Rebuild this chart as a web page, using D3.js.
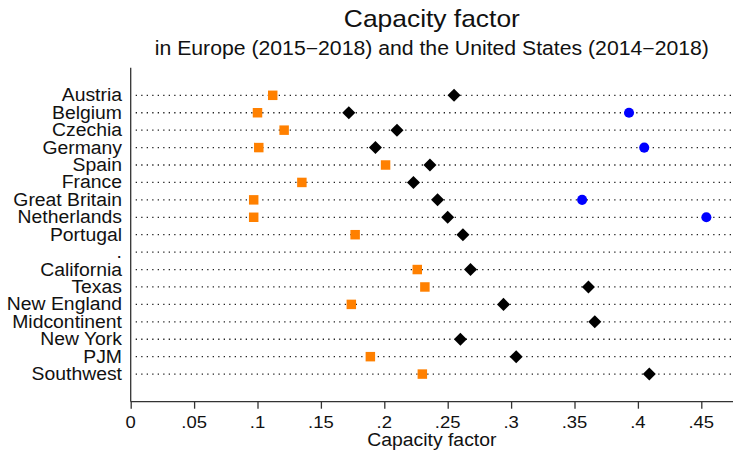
<!DOCTYPE html>
<html>
<head>
<meta charset="utf-8">
<script src="https://cdn.jsdelivr.net/npm/d3@7"></script>
<style>
  html, body { margin: 0; padding: 0; background: #fff; }
  text { font-family: "Liberation Sans", Arial, Helvetica, sans-serif; fill: #111; }
</style>
</head>
<body>
<svg id="chart" width="733" height="453"></svg>
<script>
// Regions, top to bottom ("." is an empty spacer row between Europe and the US)
const regions = ["Austria", "Belgium", "Czechia", "Germany", "Spain", "France",
  "Great Britain", "Netherlands", "Portugal", ".", "California", "Texas",
  "New England", "Midcontinent", "New York", "PJM", "Southwest"];

// Capacity factors per region (null = no data)
const solar = [0.112, 0.100, 0.121, 0.101, 0.201, 0.135, 0.097, 0.097, 0.177, null,
  0.226, 0.232, 0.174, null, null, 0.189, 0.230];
const windOnshore = [0.255, 0.172, 0.210, 0.193, 0.236, 0.223, 0.242, 0.250, 0.262, null,
  0.268, 0.361, 0.294, 0.366, 0.260, 0.304, 0.409];
const windOffshore = [null, 0.393, null, 0.405, null, null, 0.356, 0.454, null, null,
  null, null, null, null, null, null, null];

const xTicks = [0, 0.05, 0.10, 0.15, 0.20, 0.25, 0.30, 0.35, 0.40, 0.45];
const xTickLabels = ["0", ".05", ".1", ".15", ".2", ".25", ".3", ".35", ".4", ".45"];

const titleText = "Capacity factor";
const subtitleText = "in Europe (2015\u22122018) and the United States (2014\u22122018)";
const xAxisTitle = "Capacity factor";

const svg = d3.select("#chart");
const W = 733, H = 453;
const plot = { left: 130.7, right: 733, top: 67.7, bottom: 401.7 };
const sx = 1.1; // horizontal stretch of the lettering

const x = d3.scaleLinear().domain([0, 0.475]).range([plot.left, plot.right]);
const y = d3.scalePoint().domain(regions).range([plot.top, plot.bottom]).padding(1.585);

// text helper with horizontal stretch
function label(g, tx, ty, str, size, anchor) {
  return g.append("text")
    .attr("transform", `translate(${tx},${ty}) scale(${sx},1)`)
    .attr("text-anchor", anchor)
    .style("font-size", size + "px")
    .text(str);
}

const cx = (plot.left + plot.right) / 2;
label(svg, cx, 27, titleText, 24, "middle");
label(svg, cx, 55, subtitleText, 19.3, "middle");

// dotted guide lines per row
const guides = svg.append("g");
regions.forEach(r => {
  guides.append("line")
    .attr("x1", plot.left + 5).attr("x2", plot.right)
    .attr("y1", y(r)).attr("y2", y(r))
    .attr("stroke", "#222").attr("stroke-width", 1.3)
    .attr("stroke-dasharray", "1.3,4.2");
});

// y axis labels
const ylab = svg.append("g");
regions.forEach(r => {
  label(ylab, 122, y(r) + 6, r, 17.6, "end");
});

// axes lines
svg.append("line").attr("x1", plot.left).attr("x2", plot.left)
  .attr("y1", plot.top).attr("y2", plot.bottom)
  .attr("stroke", "#333").attr("stroke-width", 1.3);

const xAxis = d3.axisBottom(x).tickValues(xTicks).tickSize(7).tickFormat("");
const gx = svg.append("g").attr("transform", `translate(0,${plot.bottom})`).call(xAxis);
gx.select(".domain").attr("d", `M${plot.left},0H${plot.right}`).attr("stroke", "#333").attr("stroke-width", 1.3);
gx.selectAll(".tick line").attr("stroke", "#333").attr("stroke-width", 1.3);
xTicks.forEach((t, i) => {
  label(svg, x(t), 428, xTickLabels[i], 16.8, "middle");
});
label(svg, cx, 446, xAxisTitle, 17.6, "middle");

// markers
const marks = svg.append("g");
const diamond = d3.symbol().type(d3.symbolSquare).size(85);
const square = d3.symbol().type(d3.symbolSquare).size(90);
const circle = d3.symbol().type(d3.symbolCircle).size(80);

marks.selectAll(".onshore")
  .data(regions.map((r, i) => ({ r, v: windOnshore[i] })).filter(d => d.v != null))
  .join("path").attr("class", "onshore")
  .attr("d", diamond)
  .attr("transform", d => `translate(${x(d.v)},${y(d.r)}) rotate(45)`)
  .attr("fill", "#000");

marks.selectAll(".offshore")
  .data(regions.map((r, i) => ({ r, v: windOffshore[i] })).filter(d => d.v != null))
  .join("path").attr("class", "offshore")
  .attr("d", circle)
  .attr("transform", d => `translate(${x(d.v)},${y(d.r)})`)
  .attr("fill", "#0000ff");

marks.selectAll(".solar")
  .data(regions.map((r, i) => ({ r, v: solar[i] })).filter(d => d.v != null))
  .join("path").attr("class", "solar")
  .attr("d", square)
  .attr("transform", d => `translate(${x(d.v)},${y(d.r)})`)
  .attr("fill", "#ff8000");
</script>
</body>
</html>
